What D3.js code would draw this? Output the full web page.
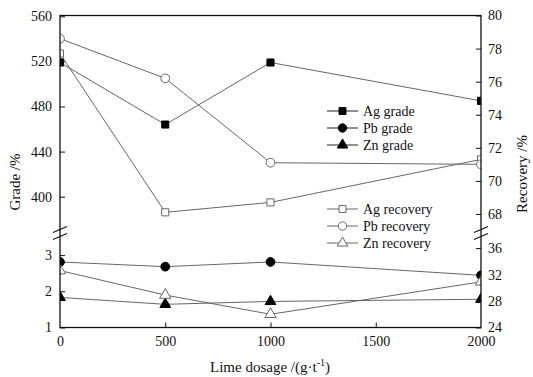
<!DOCTYPE html>
<meta charset="utf-8">
<head>
  <meta charset="utf-8">
  <title>Lime dosage vs grade and recovery</title>
</head>
<style>
body { margin: 0; background: #fff; }
text { font-family: 'Liberation Serif', 'Times New Roman', serif; fill: #111; }
.tick line { stroke: #111; }
.series { fill: none; stroke: #666; stroke-width: 1; }
</style>
<body>
<div class='chart'></div>

<script src="https://d3js.org/d3.v7.min.js"></script>
<script>

// data
var dosage = [0, 500, 1000, 2000]
var agGrade = [519, 464, 519, 485]
var pbGrade = [2.81, 2.68, 2.81, 2.44]
var znGrade = [1.83, 1.64, 1.72, 1.78]
var agRecovery = [77.7, 68.1, 68.7, 71.3]
var pbRecovery = [78.6, 76.2, 71.1, 71.0]
var znRecovery = [32.6, 28.9, 26.0, 30.9]

var xTicks = [0, 500, 1000, 1500, 2000]
var leftUpperTicks = [400, 440, 480, 520, 560]
var leftLowerTicks = [1, 2, 3]
var rightUpperTicks = [68, 70, 72, 74, 76, 78, 80]
var rightLowerTicks = [24, 28, 32, 36]

var gradeNames = ['Ag grade', 'Pb grade', 'Zn grade']
var recoveryNames = ['Ag recovery', 'Pb recovery', 'Zn recovery']

// sizes (plotTop etc, "top" is taken by window)
var width = 533
var height = 377
var plotLeft = 60, plotRight = 481, plotTop = 15.5, plotBottom = 327.5
var brk = 233

var svg = d3.select('.chart').append('svg')
    .attr('width', width)
    .attr('height', height)

var x = d3.scaleLinear().domain([0, 2000]).range([plotLeft, plotRight])

// broken axes: upper and lower part on each side
var yLU = d3.scaleLinear().domain([367.8, 560]).range([brk, plotTop + 0.8])
var yLL = d3.scaleLinear().domain([1, 3.61]).range([plotBottom, brk])
var yRU = d3.scaleLinear().domain([66.85, 80]).range([brk, plotTop])
var yRL = d3.scaleLinear().domain([24, 38.28]).range([plotBottom, brk])

svg.append('clipPath').attr('id', 'plotclip')
  .append('rect')
    .attr('x', plotLeft).attr('y', plotTop)
    .attr('width', plotRight - plotLeft).attr('height', plotBottom - plotTop)

var plot = svg.append('g').attr('clip-path', 'url(#plotclip)')

var series = [
  {vals: agGrade, y: yLU, sym: d3.symbolSquare, fill: '#000', size: 50},
  {vals: pbGrade, y: yLL, sym: d3.symbolCircle, fill: '#000', size: 60},
  {vals: znGrade, y: yLL, sym: d3.symbolTriangle, fill: '#000', size: 50},
  {vals: agRecovery, y: yRU, sym: d3.symbolSquare, fill: '#fff', size: 50},
  {vals: pbRecovery, y: yRU, sym: d3.symbolCircle, fill: '#fff', size: 60},
  {vals: znRecovery, y: yRL, sym: d3.symbolTriangle, fill: '#fff', size: 55}
]

series.forEach(function (s) {
  var line = d3.line()
      .x(function (d, i) { return x(dosage[i]) })
      .y(function (d) { return s.y(d) })
  plot.append('path')
      .attr('class', 'series')
      .attr('d', line(s.vals))
})

series.forEach(function (s) {
  plot.selectAll(null)
      .data(s.vals)
      .enter().append('path')
      .attr('transform', function (d, i) { return 'translate(' + x(dosage[i]) + ',' + s.y(d) + ')' })
      .attr('d', d3.symbol().type(s.sym).size(s.size))
      .style('fill', s.fill)
      .style('stroke', s.fill == '#000' ? '#000' : '#666')
      .style('stroke-width', 1)
})

// axes
function styleAxis(g) {
  g.select('.domain').remove()
  g.selectAll('text').style('font-size', '14px')
}

svg.append('g')
    .attr('transform', 'translate(0,' + plotBottom + ')')
    .call(d3.axisBottom(x).tickValues(xTicks).tickSize(-5).tickPadding(9).tickFormat(d3.format('d')))
    .call(styleAxis)
    .call(function (g) { g.selectAll('.tick line').filter(function (d) { return d == 0 || d == 2000 }).remove() })

svg.append('g')
    .attr('transform', 'translate(' + plotLeft + ',0)')
    .call(d3.axisLeft(yLU).tickValues(leftUpperTicks).tickSize(-5).tickPadding(8).tickFormat(d3.format('d')))
    .call(styleAxis)

svg.append('g')
    .attr('transform', 'translate(' + plotLeft + ',0)')
    .call(d3.axisLeft(yLL).tickValues(leftLowerTicks).tickSize(-5).tickPadding(8).tickFormat(d3.format('d')))
    .call(styleAxis)

svg.append('g')
    .attr('transform', 'translate(' + plotRight + ',0)')
    .call(d3.axisRight(yRU).tickValues(rightUpperTicks).tickSize(-5).tickPadding(7).tickFormat(d3.format('d')))
    .call(styleAxis)

svg.append('g')
    .attr('transform', 'translate(' + plotRight + ',0)')
    .call(d3.axisRight(yRL).tickValues(rightLowerTicks).tickSize(-5).tickPadding(7).tickFormat(d3.format('d')))
    .call(styleAxis)

// frame
svg.append('rect')
    .attr('x', plotLeft).attr('y', plotTop)
    .attr('width', plotRight - plotLeft).attr('height', plotBottom - plotTop)
    .style('fill', 'none').style('stroke', '#111').style('stroke-width', 1.3)

// break marks on both side axes
;[plotLeft, plotRight].forEach(function (ax) {
  [229.5, 236.5].forEach(function (by) {
    svg.append('line')
        .attr('x1', ax - 7).attr('y1', by + 3)
        .attr('x2', ax + 7).attr('y2', by - 3)
        .style('stroke', '#111').style('stroke-width', 1.2)
  })
})

// legends
function legend(names, syms, fill, y0) {
  names.forEach(function (n, i) {
    var y = y0 + i * 17
    svg.append('line')
        .attr('x1', 327).attr('x2', 358).attr('y1', y).attr('y2', y)
        .style('stroke', fill == '#000' ? '#222' : '#666').style('stroke-width', 1)
    svg.append('path')
        .attr('transform', 'translate(342.5,' + y + ')')
        .attr('d', d3.symbol().type(syms[i]).size(i == 1 ? 55 : 48))
        .style('fill', fill)
        .style('stroke', fill == '#000' ? '#000' : '#666')
    svg.append('text')
        .attr('x', 363).attr('y', y + 5)
        .style('font-size', '14px')
        .text(n)
  })
}
legend(gradeNames, [d3.symbolSquare, d3.symbolCircle, d3.symbolTriangle], '#000', 111)
legend(recoveryNames, [d3.symbolSquare, d3.symbolCircle, d3.symbolTriangle], '#fff', 209)

// axis titles
svg.append('text')
    .attr('transform', 'translate(20,182) rotate(-90)')
    .attr('text-anchor', 'middle')
    .style('font-size', '15px')
    .text('Grade /%')

svg.append('text')
    .attr('transform', 'translate(527,174) rotate(-90)')
    .attr('text-anchor', 'middle')
    .style('font-size', '15px')
    .text('Recovery /%')

var xt = svg.append('text')
    .attr('x', 270).attr('y', 372)
    .attr('text-anchor', 'middle')
    .style('font-size', '15px')
xt.append('tspan').text('Lime dosage /(g\u00b7t')
xt.append('tspan').attr('dy', -6).style('font-size', '10px').text('-1')
xt.append('tspan').attr('dy', 6).text(')')

</script>
</body>
